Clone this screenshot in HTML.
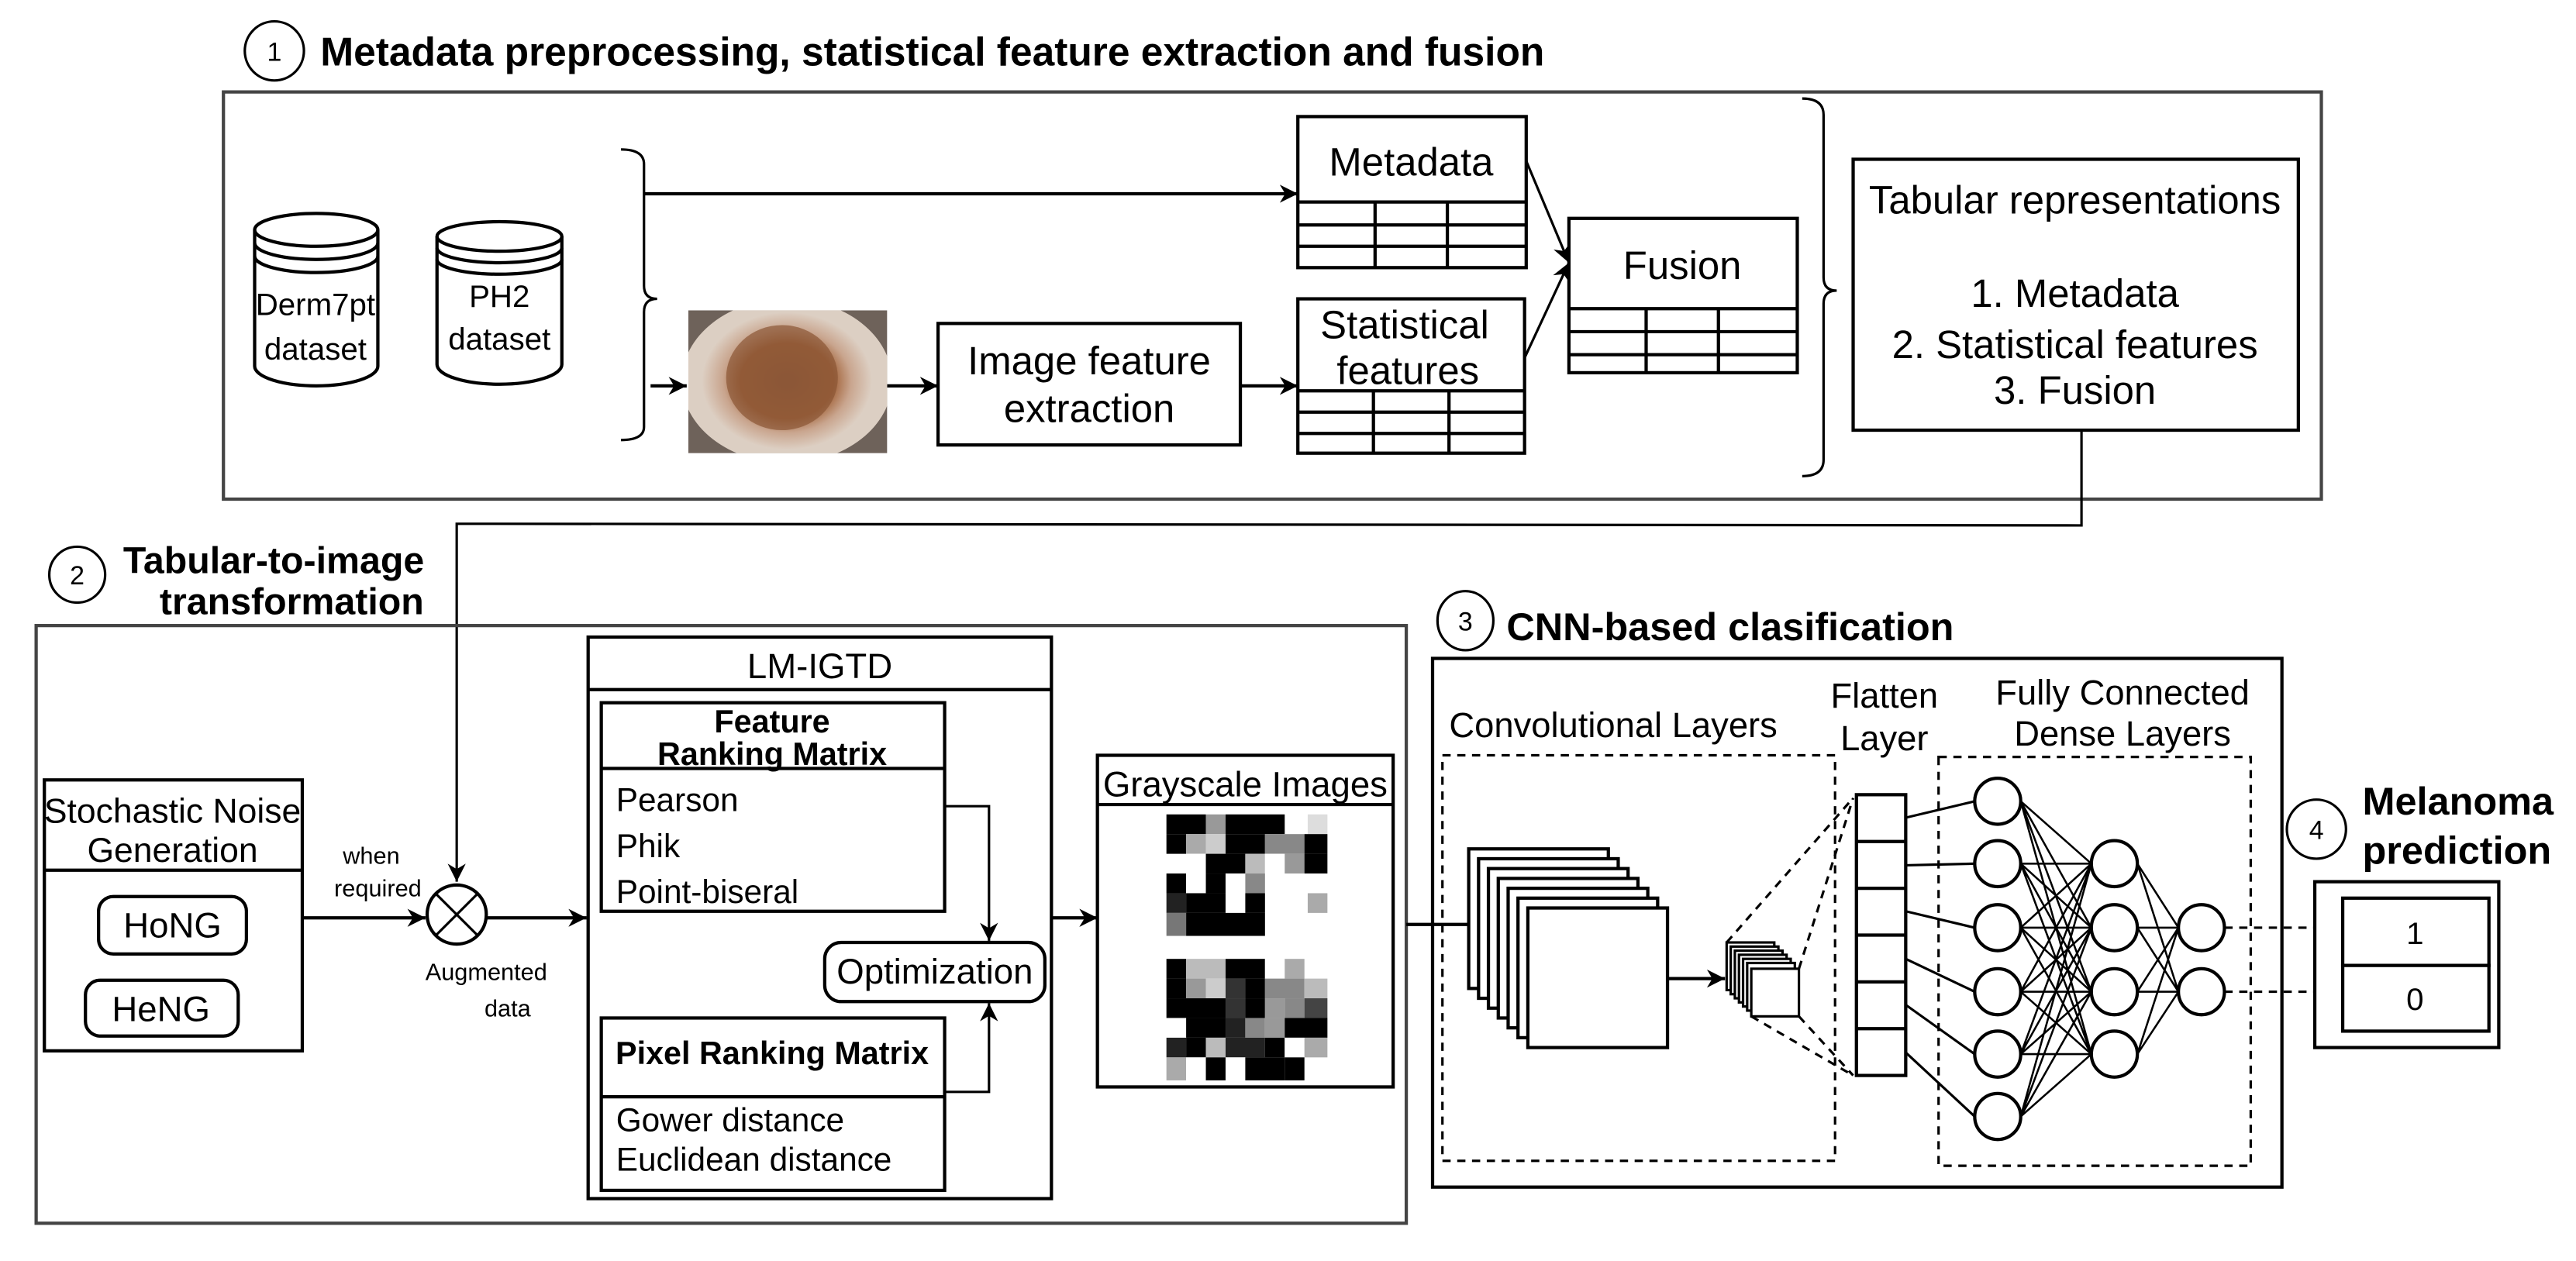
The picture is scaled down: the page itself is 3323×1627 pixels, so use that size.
<!DOCTYPE html>
<html><head><meta charset="utf-8"><style>
html,body{margin:0;padding:0;background:#fff;}
svg{display:block;}
text{font-family:"Liberation Sans",sans-serif;fill:#000;}
.b{font-weight:bold;}
</style></head><body>
<svg width="3323" height="1627" viewBox="0 0 1568 768" preserveAspectRatio="none" xmlns="http://www.w3.org/2000/svg">
<defs>
<marker id="A" viewBox="0 0 10 10" refX="10" refY="5" markerWidth="11" markerHeight="11" orient="auto" markerUnits="userSpaceOnUse"><path d="M0,0 L10,5 L0,10 L3,5 z" fill="#000"/></marker>
<radialGradient id="skin" cx="50%" cy="50%" r="50%">
<stop offset="0" stop-color="#8e5a3c"/><stop offset="0.55" stop-color="#a4673f"/><stop offset="0.75" stop-color="#c9a58e"/><stop offset="1" stop-color="#ddd0c4"/>
</radialGradient>
<clipPath id="sc"><rect x="419" y="189" width="121" height="87"/></clipPath>
</defs>
<g fill="none" stroke="#000" stroke-width="2">
<ellipse cx="167" cy="31" rx="18" ry="18" stroke-width="1.5"/>
<rect x="136" y="56" width="1277" height="248" stroke="#444"/>
<path d="M155,140 L155,223 A37.5,12 0 0 0 230,223 L230,140"/>
<ellipse cx="192.5" cy="140" rx="37.5" ry="10"/>
<path d="M155,148 A37.5,10 0 0 0 230,148 M155,156 A37.5,10 0 0 0 230,156"/>
<path d="M266,144 L266,222 A38,12 0 0 0 342,222 L342,144"/>
<ellipse cx="304" cy="144" rx="38" ry="9"/>
<path d="M266,151 A38,9 0 0 0 342,151 M266,158 A38,9 0 0 0 342,158"/>
<path d="M378,91 Q392,91 392,100 L392,174 Q392,182 400,182 Q392,182 392,190 L392,260 Q392,268 378,268" stroke-width="1.5"/>
<line x1="392" y1="118" x2="790" y2="118" marker-end="url(#A)"/>
<line x1="396" y1="235" x2="418" y2="235" marker-end="url(#A)"/>
<line x1="540" y1="235" x2="571" y2="235" marker-end="url(#A)"/>
<rect x="571" y="197" width="184" height="74"/>
<line x1="755" y1="235" x2="790" y2="235" marker-end="url(#A)"/>
<rect x="790" y="71" width="139" height="92"/>
<path d="M790,123 H929 M790,137 H929 M790,150 H929 M837,123 V163 M881,123 V163"/>
<rect x="790" y="182" width="138" height="94"/>
<path d="M790,238 H928 M790,251 H928 M790,264 H928 M836,238 V276 M882,238 V276"/>
<rect x="955" y="133" width="139" height="94"/>
<path d="M955,188 H1094 M955,202 H1094 M955,216 H1094 M1002,188 V227 M1046,188 V227"/>
<line x1="929" y1="98" x2="955" y2="160" stroke-width="1.5" marker-end="url(#A)"/>
<line x1="928" y1="218" x2="955" y2="160" stroke-width="1.5" marker-end="url(#A)"/>
<path d="M1097,60 Q1110,60 1110,70 L1110,169 Q1110,177 1118,177 Q1110,177 1110,185 L1110,280 Q1110,290 1097,290" stroke-width="1.5"/>
<rect x="1128" y="97" width="271" height="165"/>
<polyline points="1267,262 1267,320 278,319 278,537" stroke-width="1.5" marker-end="url(#A)"/>
<ellipse cx="47" cy="350" rx="17" ry="17" stroke-width="1.5"/>
<rect x="22" y="381" width="834" height="364" stroke="#444"/>
<rect x="27" y="475" width="157" height="165"/>
<line x1="27" y1="530" x2="184" y2="530"/>
<rect x="60" y="546" width="90" height="35" rx="9"/>
<rect x="52" y="597" width="93" height="34" rx="9"/>
<line x1="184" y1="559" x2="259" y2="559" marker-end="url(#A)"/>
<circle cx="278" cy="557" r="18"/>
<path d="M265,544 L291,570 M291,544 L265,570" stroke-width="1.5"/>
<line x1="296" y1="559" x2="357" y2="559" marker-end="url(#A)"/>
<rect x="358" y="388" width="282" height="342"/>
<line x1="358" y1="420" x2="640" y2="420"/>
<rect x="366" y="428" width="209" height="127"/>
<line x1="366" y1="468" x2="575" y2="468"/>
<rect x="366" y="620" width="209" height="105"/>
<line x1="366" y1="668" x2="575" y2="668"/>
<rect x="502" y="574" width="134" height="36" rx="10"/>
<polyline points="575,491 602,491 602,573" stroke-width="1.5" marker-end="url(#A)"/>
<polyline points="575,665 602,665 602,611" stroke-width="1.5" marker-end="url(#A)"/>
<line x1="640" y1="559" x2="668" y2="559" marker-end="url(#A)"/>
<rect x="668" y="460" width="180" height="202"/>
<line x1="668" y1="490" x2="848" y2="490"/>
<line x1="856" y1="563" x2="895" y2="563"/>
<ellipse cx="892" cy="378" rx="17" ry="18" stroke-width="1.5"/>
<rect x="872" y="401" width="517" height="322"/>
<rect x="878" y="460" width="239" height="247" stroke-dasharray="5,4" stroke-width="1.5"/>
<rect x="1180" y="461" width="190" height="249" stroke-dasharray="5,4" stroke-width="1.5"/>
</g>
<g clip-path="url(#sc)">
<rect x="419" y="189" width="121" height="87" fill="#6e625a"/>
<ellipse cx="479" cy="232" rx="64" ry="50" fill="#dccfc3"/>
<ellipse cx="479" cy="232" rx="52" ry="42" fill="url(#skin)"/>
<ellipse cx="476" cy="230" rx="34" ry="32" fill="#8a5535" opacity="0.7"/>
</g>
<g fill="#fff" stroke="#000" stroke-width="2">
<rect x="894" y="517" width="85" height="85"/><rect x="900" y="523" width="85" height="85"/><rect x="906" y="529" width="85" height="85"/><rect x="912" y="535" width="85" height="85"/><rect x="918" y="541" width="85" height="85"/><rect x="924" y="547" width="85" height="85"/><rect x="930" y="553" width="85" height="85"/>
</g>
<line x1="1015" y1="596" x2="1050" y2="596" stroke="#000" stroke-width="2" marker-end="url(#A)"/>
<g fill="#fff" stroke="#000" stroke-width="1.5">
<rect x="1051" y="574" width="29" height="29"/><rect x="1053.5" y="576.5" width="29" height="29"/><rect x="1056" y="579" width="29" height="29"/><rect x="1058.5" y="581.5" width="29" height="29"/><rect x="1061" y="584" width="29" height="29"/><rect x="1063.5" y="586.5" width="29" height="29"/><rect x="1066" y="590" width="29" height="29"/>
</g>
<g stroke="#000" stroke-width="1.5" stroke-dasharray="5,4" fill="none">
<line x1="1051" y1="574" x2="1128" y2="486"/><line x1="1095" y1="590" x2="1128" y2="486"/>
<line x1="1066" y1="619" x2="1128" y2="655"/><line x1="1095" y1="619" x2="1128" y2="655"/>
<line x1="1354" y1="565" x2="1426" y2="565"/><line x1="1354" y1="604" x2="1426" y2="604"/>
</g>
<g fill="#fff" stroke="#000" stroke-width="2">
<rect x="1130" y="484" width="30" height="171"/>
<path d="M1130,512.5 H1160 M1130,541 H1160 M1130,569.5 H1160 M1130,598 H1160 M1130,626.5 H1160"/>
</g>
<g stroke="#000" stroke-width="1.5">
<line x1="1160" y1="498" x2="1202" y2="488"/><line x1="1160" y1="527" x2="1202" y2="526"/><line x1="1160" y1="555" x2="1202" y2="565"/><line x1="1160" y1="584" x2="1202" y2="604"/><line x1="1160" y1="612" x2="1202" y2="642"/><line x1="1160" y1="641" x2="1202" y2="680"/>
<path stroke-width="1.2" d="M1230,488 L1273,526 M1230,488 L1273,565 M1230,488 L1273,604 M1230,488 L1273,642
M1230,526 L1273,526 M1230,526 L1273,565 M1230,526 L1273,604 M1230,526 L1273,642
M1230,565 L1273,526 M1230,565 L1273,565 M1230,565 L1273,604 M1230,565 L1273,642
M1230,604 L1273,526 M1230,604 L1273,565 M1230,604 L1273,604 M1230,604 L1273,642
M1230,642 L1273,526 M1230,642 L1273,565 M1230,642 L1273,604 M1230,642 L1273,642
M1230,680 L1273,526 M1230,680 L1273,565 M1230,680 L1273,604 M1230,680 L1273,642
M1301,526 L1326,565 M1301,526 L1326,604 M1301,565 L1326,565 M1301,565 L1326,604 M1301,604 L1326,565 M1301,604 L1326,604 M1301,642 L1326,565 M1301,642 L1326,604"/>
</g>
<g fill="#fff" stroke="#000" stroke-width="2">
<ellipse cx="1216" cy="488" rx="14" ry="14"/><ellipse cx="1216" cy="526" rx="14" ry="14"/><ellipse cx="1216" cy="565" rx="14" ry="14"/><ellipse cx="1216" cy="604" rx="14" ry="14"/><ellipse cx="1216" cy="642" rx="14" ry="14"/><ellipse cx="1216" cy="680" rx="14" ry="14"/>
<ellipse cx="1287" cy="526" rx="14" ry="14"/><ellipse cx="1287" cy="565" rx="14" ry="14"/><ellipse cx="1287" cy="604" rx="14" ry="14"/><ellipse cx="1287" cy="642" rx="14" ry="14"/>
<ellipse cx="1340" cy="565" rx="14" ry="14"/><ellipse cx="1340" cy="604" rx="14" ry="14"/>
<ellipse cx="1410" cy="505" rx="18" ry="18" stroke-width="1.5"/>
<rect x="1409" y="537" width="112" height="101"/>
<rect x="1426" y="547" width="89" height="41"/>
<rect x="1426" y="588" width="89" height="40"/>
</g>
<g stroke="none">
<rect x="710" y="496" width="98" height="74" fill="#fff"/>
<rect x="710" y="496" width="24" height="12" fill="#000"/><rect x="734" y="496" width="12" height="12" fill="#999"/><rect x="746" y="496" width="36" height="12" fill="#000"/><rect x="796" y="496" width="12" height="12" fill="#ddd"/>
<rect x="710" y="508" width="12" height="12" fill="#000"/><rect x="722" y="508" width="12" height="12" fill="#aaa"/><rect x="734" y="508" width="12" height="12" fill="#ccc"/><rect x="746" y="508" width="24" height="12" fill="#000"/><rect x="770" y="508" width="24" height="12" fill="#888"/><rect x="794" y="508" width="14" height="12" fill="#000"/>
<rect x="722" y="520" width="12" height="12" fill="#fff"/><rect x="734" y="520" width="24" height="12" fill="#000"/><rect x="758" y="520" width="12" height="12" fill="#bbb"/><rect x="770" y="520" width="12" height="12" fill="#fff"/><rect x="782" y="520" width="12" height="12" fill="#999"/><rect x="794" y="520" width="14" height="12" fill="#000"/>
<rect x="710" y="532" width="12" height="12" fill="#000"/><rect x="722" y="532" width="12" height="12" fill="#fff"/><rect x="734" y="532" width="12" height="12" fill="#000"/><rect x="746" y="532" width="12" height="12" fill="#fff"/><rect x="758" y="532" width="12" height="12" fill="#888"/>
<rect x="710" y="544" width="12" height="12" fill="#222"/><rect x="722" y="544" width="24" height="12" fill="#000"/><rect x="746" y="544" width="12" height="12" fill="#fff"/><rect x="758" y="544" width="12" height="12" fill="#000"/><rect x="796" y="544" width="12" height="12" fill="#aaa"/>
<rect x="710" y="556" width="12" height="14" fill="#777"/><rect x="722" y="556" width="48" height="14" fill="#000"/>
<rect x="710" y="584" width="98" height="74" fill="#fff"/>
<rect x="710" y="584" width="12" height="12" fill="#000"/><rect x="722" y="584" width="24" height="12" fill="#bbb"/><rect x="746" y="584" width="24" height="12" fill="#000"/><rect x="770" y="584" width="12" height="12" fill="#fff"/><rect x="782" y="584" width="12" height="12" fill="#aaa"/>
<rect x="710" y="596" width="12" height="12" fill="#000"/><rect x="722" y="596" width="12" height="12" fill="#999"/><rect x="734" y="596" width="12" height="12" fill="#ccc"/><rect x="746" y="596" width="12" height="12" fill="#333"/><rect x="758" y="596" width="12" height="12" fill="#000"/><rect x="770" y="596" width="24" height="12" fill="#888"/><rect x="794" y="596" width="14" height="12" fill="#bbb"/>
<rect x="710" y="608" width="36" height="12" fill="#000"/><rect x="746" y="608" width="12" height="12" fill="#333"/><rect x="758" y="608" width="12" height="12" fill="#000"/><rect x="770" y="608" width="12" height="12" fill="#999"/><rect x="782" y="608" width="12" height="12" fill="#888"/><rect x="794" y="608" width="14" height="12" fill="#444"/>
<rect x="710" y="620" width="12" height="12" fill="#fff"/><rect x="722" y="620" width="24" height="12" fill="#000"/><rect x="746" y="620" width="12" height="12" fill="#222"/><rect x="758" y="620" width="12" height="12" fill="#888"/><rect x="770" y="620" width="12" height="12" fill="#999"/><rect x="782" y="620" width="26" height="12" fill="#000"/>
<rect x="710" y="632" width="12" height="12" fill="#222"/><rect x="722" y="632" width="12" height="12" fill="#000"/><rect x="734" y="632" width="12" height="12" fill="#bbb"/><rect x="746" y="632" width="24" height="12" fill="#222"/><rect x="770" y="632" width="12" height="12" fill="#000"/><rect x="782" y="632" width="12" height="12" fill="#fff"/><rect x="794" y="632" width="14" height="12" fill="#aaa"/>
<rect x="710" y="644" width="12" height="14" fill="#aaa"/><rect x="722" y="644" width="12" height="14" fill="#fff"/><rect x="734" y="644" width="12" height="14" fill="#000"/><rect x="746" y="644" width="12" height="14" fill="#fff"/><rect x="758" y="644" width="24" height="14" fill="#000"/><rect x="782" y="644" width="12" height="14" fill="#000"/>
</g>
<text x="167" y="37" font-size="16" text-anchor="middle">1</text>
<text x="195" y="40" font-size="24.3" class="b">Metadata preprocessing, statistical feature extraction and fusion</text>
<g text-anchor="middle">
<text x="192" y="192" font-size="19">Derm7pt</text><text x="192" y="219" font-size="19">dataset</text>
<text x="304" y="187" font-size="19">PH2</text><text x="304" y="213" font-size="19">dataset</text>
<text x="663" y="228" font-size="24">Image feature</text><text x="663" y="257" font-size="24">extraction</text>
<text x="859" y="107" font-size="24">Metadata</text>
<text x="855" y="206" font-size="24">Statistical</text><text x="857" y="234" font-size="24">features</text>
<text x="1024" y="170" font-size="24">Fusion</text>
<text x="1263" y="130" font-size="24">Tabular representations</text>
<text x="1263" y="187" font-size="24">1. Metadata</text>
<text x="1263" y="218" font-size="24">2. Statistical features</text>
<text x="1263" y="246" font-size="24">3. Fusion</text>
</g>
<text x="47" y="356" font-size="16" text-anchor="middle">2</text>
<text x="75" y="349" font-size="22.8" class="b">Tabular-to-image</text>
<text x="258" y="374" font-size="22.8" class="b" text-anchor="end">transformation</text>
<g text-anchor="middle">
<text x="105" y="501" font-size="21">Stochastic Noise</text><text x="105" y="525" font-size="21">Generation</text>
<text x="105" y="571" font-size="21.5">HoNG</text><text x="98" y="622" font-size="21.5">HeNG</text>
<text x="499" y="413" font-size="21.5">LM-IGTD</text>
<text x="470" y="446" class="b" font-size="19.5">Feature</text>
<text x="470" y="466" class="b" font-size="19.5">Ranking Matrix</text>
<text x="470" y="648" class="b" font-size="19.5">Pixel Ranking Matrix</text>
<text x="569" y="599" font-size="21.5">Optimization</text>
<text x="758" y="485" font-size="21.5">Grayscale Images</text>
<text x="226" y="526" font-size="14.5">when</text><text x="230" y="546" font-size="14.5">required</text>
<text x="296" y="597" font-size="14.5">Augmented</text><text x="309" y="619" font-size="14.5">data</text>
</g>
<g font-size="20">
<text x="375" y="494">Pearson</text><text x="375" y="522">Phik</text><text x="375" y="550">Point-biseral</text>
<text x="375" y="689">Gower distance</text><text x="375" y="713">Euclidean distance</text>
</g>
<text x="892" y="384" font-size="16" text-anchor="middle">3</text>
<text x="917" y="390" font-size="23.8" class="b">CNN-based clasification</text>
<g text-anchor="middle" font-size="21.4">
<text x="982" y="449">Convolutional Layers</text>
<text x="1147" y="431">Flatten</text><text x="1147" y="457">Layer</text>
<text x="1292" y="429">Fully Connected</text><text x="1292" y="454">Dense Layers</text>
<text x="1470" y="575" font-size="19">1</text><text x="1470" y="615" font-size="19">0</text>
<text x="1410" y="511" font-size="16">4</text>
</g>
<text x="1438" y="496" font-size="23.8" class="b">Melanoma</text>
<text x="1438" y="526" font-size="23.8" class="b">prediction</text>
</svg>
</body></html>
